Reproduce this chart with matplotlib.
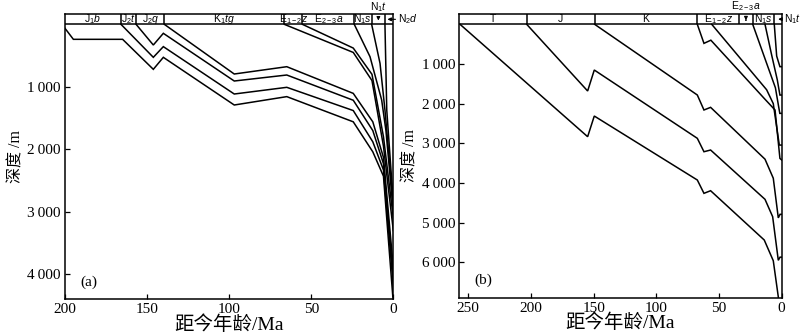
import matplotlib
matplotlib.use('Agg')
import matplotlib.pyplot as plt

plt.rcParams['font.family'] = ['Liberation Serif', 'Noto Sans CJK SC']
plt.rcParams['mathtext.fontset'] = 'custom'
plt.rcParams['mathtext.rm'] = 'Liberation Sans'
plt.rcParams['mathtext.it'] = 'Liberation Sans:italic'

# ---- (a) 地层分界 (Ma) ----
a_bounds = [200, 165.9, 156.7, 139.5, 66.4, 55.4, 23.8, 13.2, 5.1, 0]
a_names = [r'J$_1$$\it{b}$', r'J$_2$$\it{t}$', r'J$_2$$\it{q}$', r'K$_1$$\it{tg}$',
           r'E$_{1-2}$$\it{z}$', r'E$_{2-3}$$\it{a}$', r'N$_1$$\it{s}$', '', '']

# (a) 埋藏史曲线: 年龄 (Ma), 深度 (m)
a_J1b_age = [200, 194.9, 164.9, 146.2, 140.1, 96.9, 64.9, 24.4, 12.5, 6.0, 0.3]
a_J1b_dep = [64, 240, 240, 720, 528, 1291, 1157, 1560, 2040, 2430, 4360]
a_J2t_age = [165.9, 146.2, 140.1, 96.9, 64.9, 24.4, 12.5, 6.0, 0]
a_J2t_dep = [0, 528, 357, 1115, 1008, 1380, 1880, 2330, 4200]
a_J2q_age = [156.7, 146.2, 140.1, 96.9, 64.9, 24.4, 12.5, 6.0, 0]
a_J2q_dep = [0, 331, 144, 907, 811, 1215, 1700, 2230, 4050]
a_K1tg_age = [139.5, 96.9, 64.9, 24.4, 12.5, 6.0, 0]
a_K1tg_dep = [0, 795, 678, 1105, 1560, 2130, 3900]
a_E12z_age = [66.4, 24.4, 13.0, 6.0, 0]
a_E12z_dep = [0, 450, 900, 1950, 3300]
a_E23a_age = [55.4, 24.4, 13.0, 6.0, 0]
a_E23a_dep = [0, 380, 800, 1800, 3100]
a_N1s_age = [23.8, 14.2, 7.1, 4.5, 0]
a_N1s_dep = [0, 518, 1211, 1700, 3000]
a_N1t_age = [13.2, 8.1, 5.1, 0]
a_N1t_dep = [0, 624, 1371, 2900]
a_N2d_age = [5.1, 4.0, 0]
a_N2d_dep = [0, 1371, 2860]

# ---- (b) 地层分界 (Ma) ----
b_bounds = [257.2, 203.4, 149.2, 67.3, 33.8, 23.1, 5.9, 0]
b_names = ['T', 'J', 'K', r'E$_{1-2}$$\it{z}$', '', r'N$_1$$\it{s}$', '']

b_T_age = [256.6, 154.8, 149.5, 67.3, 62.0, 56.7, 13.9, 6.7, 2.7, 2.4]
b_T_dep = [0, 2833, 2312, 3925, 4261, 4195, 5438, 5960, 6870, 7000]
b_J_age = [203.4, 154.8, 149.5, 67.3, 62.0, 56.7, 13.3, 7.2, 2.7, 1.3, 0]
b_J_dep = [0, 1681, 1152, 2874, 3212, 3169, 4412, 4850, 5950, 5870, 5870]
b_K_age = [149.2, 67.3, 62.0, 56.7, 13.3, 6.7, 2.7, 1.3, 0]
b_K_dep = [0, 1782, 2160, 2093, 3400, 3880, 4880, 4790, 4790]
b_E12z_age = [67.3, 62.0, 56.5, 13.0, 5.3, 1.4, 0]
b_E12z_dep = [0, 480, 400, 1900, 2160, 3380, 3420]
b_E23a_age = [55.8, 12.0, 6.7, 1.9, 0]
b_E23a_dep = [0, 1650, 2000, 3044, 3044]
b_N1s_age = [23.1, 12.0, 5.0, 1.5, 0]
b_N1s_dep = [0, 983, 1600, 2245, 2245]
b_N1t_age = [13.3, 8.0, 3.5, 1.4, 0]
b_N1t_dep = [0, 774, 1400, 1783, 1783]
b_N2_age = [5.9, 4.0, 1.4, 0]
b_N2_dep = [0, 800, 1068, 1068]

a_yticks = [1000, 2000, 3000, 4000]
b_yticks = [1000, 2000, 3000, 4000, 5000, 6000]
a_xticks = [200, 150, 100, 50, 0]
b_xticks = [250, 200, 150, 100, 50, 0]


def thou(v):
    s = str(v)
    return s[:-3] + '\u2009' + s[-3:] if v >= 1000 else s


def header(ax, bounds, names, top):
    ax.axhline(0, color='k', lw=1.1)
    ax.vlines(bounds[1:-1], top, 0, color='k', lw=1.1)
    for i, nm in enumerate(names):
        if nm:
            ax.text((bounds[i] + bounds[i + 1]) / 2, top / 2, nm, ha='center', va='center',
                    fontsize=7.5, family='Liberation Sans')


def panel(ax, curves, xlim, ylim, xticks, yticks, tag):
    for age, dep in curves:
        ax.plot(age, dep, color='k', lw=1.1, solid_joinstyle='miter')
    ax.set_xlim(*xlim)
    ax.set_ylim(*ylim)
    ax.set_xticks(xticks)
    ax.set_yticks(yticks)
    ax.set_yticklabels([thou(v) for v in yticks])
    ax.tick_params(direction='in', length=3.5, width=0.9, labelsize=11, pad=3)
    for sp in ax.spines.values():
        sp.set_linewidth(1.1)
    ax.set_xlabel('距今年龄/Ma', fontsize=14, labelpad=-1)
    ax.set_ylabel('深度 /m', fontsize=11.5, labelpad=2)
    ax.text(0.073, 0.06, tag, transform=ax.transAxes, fontsize=11, ha='center', va='center')


fig = plt.figure(figsize=(8, 3.36), dpi=100)

ax1 = fig.add_axes([0.08125, 0.1092, 0.4104, 0.8491])
a_top = -165
panel(ax1, [(a_J1b_age, a_J1b_dep), (a_J2t_age, a_J2t_dep), (a_J2q_age, a_J2q_dep),
            (a_K1tg_age, a_K1tg_dep), (a_E12z_age, a_E12z_dep), (a_E23a_age, a_E23a_dep),
            (a_N1s_age, a_N1s_dep), (a_N1t_age, a_N1t_dep), (a_N2d_age, a_N2d_dep)],
      (200, 0), (4400, a_top), a_xticks, a_yticks, '(a)')
header(ax1, a_bounds, a_names, a_top)
ax1.annotate(r'N$_1$$\it{t}$', xy=(9.1, -60), xytext=(9.1, -275), ha='center', va='center',
             fontsize=7.5, family='Liberation Sans', annotation_clip=False,
             arrowprops=dict(arrowstyle='-|>', lw=0.8, color='k', mutation_scale=5, shrinkA=3, shrinkB=0))
ax1.annotate(r'N$_2$$\it{d}$', xy=(3.6, -80), xytext=(-3.0, -80), ha='left', va='center',
             fontsize=7.5, family='Liberation Sans', annotation_clip=False,
             arrowprops=dict(arrowstyle='-|>', lw=0.8, color='k', mutation_scale=5, shrinkA=0, shrinkB=0))

ax2 = fig.add_axes([0.5741, 0.114, 0.403, 0.8443])
b_top = -260
panel(ax2, [(b_T_age, b_T_dep), (b_J_age, b_J_dep), (b_K_age, b_K_dep),
            (b_E12z_age, b_E12z_dep), (b_E23a_age, b_E23a_dep), (b_N1s_age, b_N1s_dep),
            (b_N1t_age, b_N1t_dep), (b_N2_age, b_N2_dep)],
      (257.2, 0), (6892, b_top), b_xticks, b_yticks, '(b)')
header(ax2, b_bounds, b_names, b_top)
ax2.annotate(r'E$_{2-3}$$\it{a}$', xy=(28.5, -100), xytext=(28.5, -450), ha='center', va='center',
             fontsize=7.5, family='Liberation Sans', annotation_clip=False,
             arrowprops=dict(arrowstyle='-|>', lw=0.8, color='k', mutation_scale=5, shrinkA=3, shrinkB=0))
ax2.annotate(r'N$_1$$\it{t}$', xy=(2.8, -130), xytext=(-1.5, -130), ha='left', va='center',
             fontsize=7.5, family='Liberation Sans', annotation_clip=False,
             arrowprops=dict(arrowstyle='-|>', lw=0.8, color='k', mutation_scale=5, shrinkA=0, shrinkB=0))

fig.savefig('out.png', dpi=100)
